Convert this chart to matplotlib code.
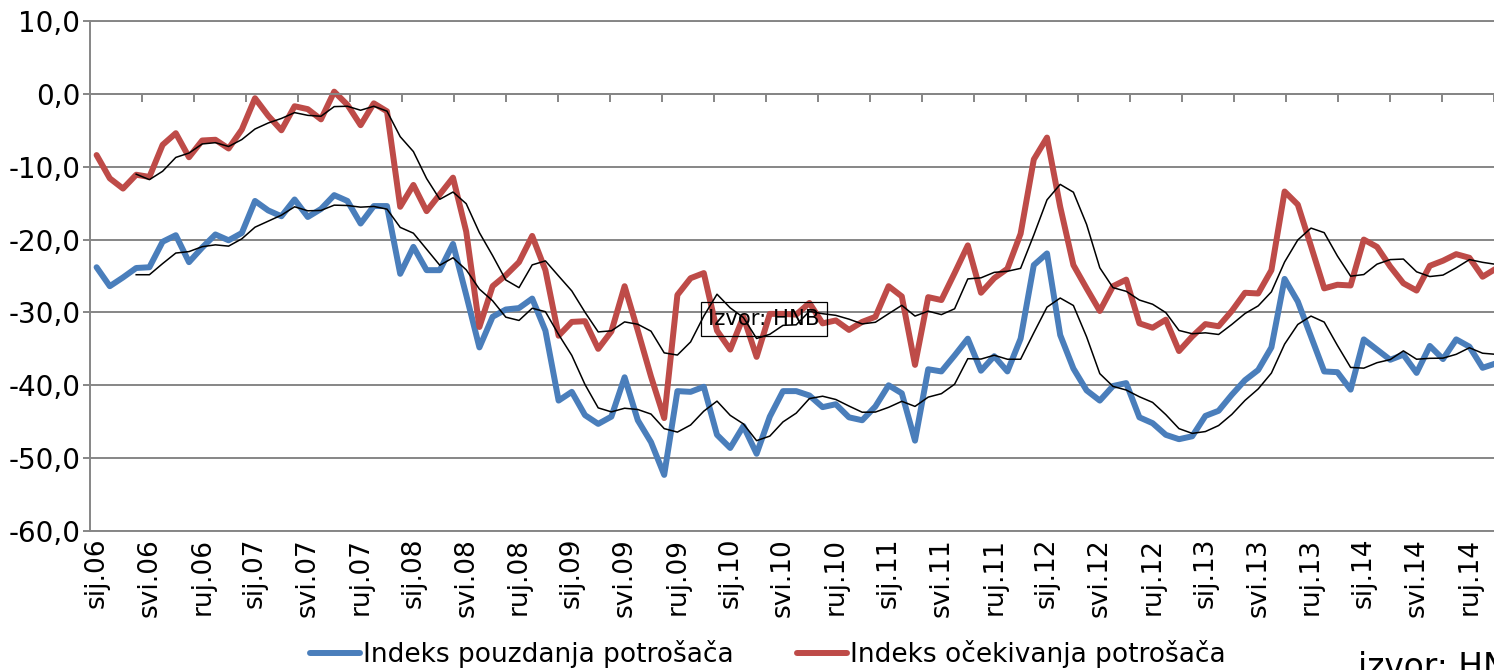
import numpy as np
import pandas as pd
import matplotlib
matplotlib.use('Agg')
import matplotlib.pyplot as plt
from matplotlib import font_manager

# Monthly data, sij.06 .. stu.14
pouzdanje = [-23.8, -26.4, -25.2, -23.9, -23.8, -20.3, -19.4, -23.1, -21.1, -19.3,
             -20.1, -19.1, -14.7, -16.0, -16.8, -14.5, -16.9, -15.8, -13.9, -14.7,
             -17.8, -15.4, -15.4, -24.7, -21.0, -24.2, -24.2, -20.6, -27.6, -34.8,
             -30.6, -29.6, -29.4, -28.1, -32.5, -42.1, -40.9, -44.1, -45.3, -44.3,
             -38.9, -44.8, -47.8, -52.3, -40.8, -40.9, -40.2, -46.8, -48.6, -45.6,
             -49.4, -44.3, -40.8, -40.8, -41.4, -43.0, -42.6, -44.4, -44.8, -42.9,
             -40.0, -41.1, -47.6, -37.8, -38.1, -35.9, -33.6, -38.0, -36.0, -38.1,
             -33.6, -23.5, -21.9, -33.1, -37.7, -40.7, -42.1, -40.1, -39.7, -44.4,
             -45.2, -46.8, -47.4, -47.0, -44.2, -43.5, -41.3, -39.3, -37.9, -34.8,
             -25.4, -28.5, -33.3, -38.1, -38.2, -40.6, -33.7, -35.1, -36.5, -35.8,
             -38.3, -34.6, -36.4, -33.7, -34.7, -37.6, -37.0]

ocekivanja = [-8.4, -11.6, -13.0, -11.1, -11.4, -7.0, -5.4, -8.7, -6.4, -6.3,
              -7.5, -4.9, -0.6, -3.0, -5.0, -1.7, -2.1, -3.5, 0.3, -1.5,
              -4.3, -1.3, -2.4, -15.5, -12.5, -16.1, -13.8, -11.5, -18.9, -32.0,
              -26.4, -24.9, -23.1, -19.5, -24.2, -33.2, -31.3, -31.2, -35.0, -32.6,
              -26.4, -32.5, -38.8, -44.5, -27.6, -25.3, -24.6, -32.5, -35.1, -30.6,
              -36.1, -30.2, -30.2, -30.3, -28.7, -31.5, -31.1, -32.4, -31.3, -30.6,
              -26.4, -27.8, -37.2, -27.9, -28.3, -24.6, -20.8, -27.3, -25.3, -24.0,
              -19.2, -9.0, -6.0, -15.5, -23.5, -26.7, -29.8, -26.4, -25.5, -31.5,
              -32.1, -31.0, -35.3, -33.3, -31.6, -31.9, -29.8, -27.3, -27.4, -24.2,
              -13.4, -15.2, -20.9, -26.7, -26.2, -26.3, -20.0, -21.0, -23.7, -26.0,
              -27.0, -23.6, -22.9, -22.0, -22.5, -25.1, -24.0]

godine = ['06', '07', '08', '09', '10', '11', '12', '13', '14']
mjeseci = ['sij', 'svi', 'ruj']
x_labels = [m + '.' + g for g in godine for m in mjeseci]

legend_labels = ['Indeks pouzdanja potrošača', 'Indeks očekivanja potrošača']

BLUE = '#4A7EBB'
RED = '#BE4B48'
GRAY = '#868686'

# condensed font if available
names = {f.name for f in font_manager.fontManager.ttflist}
if 'Liberation Sans Narrow' in names:
    narrow = ['Liberation Sans Narrow', 'DejaVu Sans']
    scale = 1.0
else:
    narrow = ['DejaVu Sans']
    scale = 0.76

fig = plt.figure(figsize=(14.94, 6.70), dpi=100)
ax = fig.add_axes([90 / 1494, 139 / 670, 1404 / 1494, 510 / 670])

x = np.arange(len(pouzdanje))
l1, = ax.plot(x, pouzdanje, color=BLUE, lw=4.3, solid_joinstyle='round',
              solid_capstyle='round', zorder=3)
l2, = ax.plot(x, ocekivanja, color=RED, lw=4.3, solid_joinstyle='round',
              solid_capstyle='round', zorder=3)

# 4-month moving average trendlines
ax.plot(x, pd.Series(pouzdanje).rolling(4).mean(), color='black', lw=1.1, zorder=4)
ax.plot(x, pd.Series(ocekivanja).rolling(4).mean(), color='black', lw=1.1, zorder=4)

ax.set_xlim(-0.5, -0.5 + 1404 / 13.2)
ax.set_ylim(-60, 10)

yticks = np.arange(-60, 11, 10)
ax.set_yticks(yticks)
ax.set_yticklabels([f'{v:.1f}'.replace('.', ',') for v in yticks])
ax.grid(axis='y', color=GRAY, lw=1.4)
ax.set_axisbelow(True)

ax.set_xticks(x[::4][:len(x_labels)])
ax.set_xticklabels(x_labels, rotation=90)

ax.tick_params(axis='x', length=0, pad=5, labelsize=19)
ax.tick_params(axis='y', length=5, width=1.4, color=GRAY, pad=2, labelsize=20)

for s in ['left', 'top', 'bottom']:
    ax.spines[s].set_color(GRAY)
    ax.spines[s].set_linewidth(1.4)
ax.spines['right'].set_visible(False)

# category-axis tick marks sitting on the zero line
ax2 = ax.twiny()
ax2.set_xlim(ax.get_xlim())
ax2.xaxis.set_ticks_position('bottom')
ax2.spines['bottom'].set_position(('data', 0))
ax2.spines['bottom'].set_color(GRAY)
ax2.spines['bottom'].set_linewidth(1.4)
for s in ['left', 'top', 'right']:
    ax2.spines[s].set_visible(False)
ax2.set_xticks(np.arange(-0.5, len(x) + 1, 4))
ax2.tick_params(axis='x', direction='out', length=6, width=1.4, color=GRAY,
                labelbottom=False, labeltop=False)

ax.text(0.48, 0.4157, 'Izvor: HNB', transform=ax.transAxes, ha='center', va='center',
        family=narrow, fontsize=20 * scale, zorder=6,
        bbox=dict(boxstyle='square,pad=0.35', fc='none', ec='black', lw=0.9))

fig.legend([l1, l2], legend_labels, loc='center', bbox_to_anchor=(0.514, 0.024),
           ncol=2, frameon=False, prop={'family': narrow, 'size': 25 * scale},
           handlelength=1.9, handletextpad=0.1, columnspacing=2.4)

fig.text(1358 / 1494, (670 - 677) / 670, 'izvor: HNB', family=narrow,
         fontsize=31 * scale, va='baseline', ha='left')

fig.savefig('out.png', dpi=100)
